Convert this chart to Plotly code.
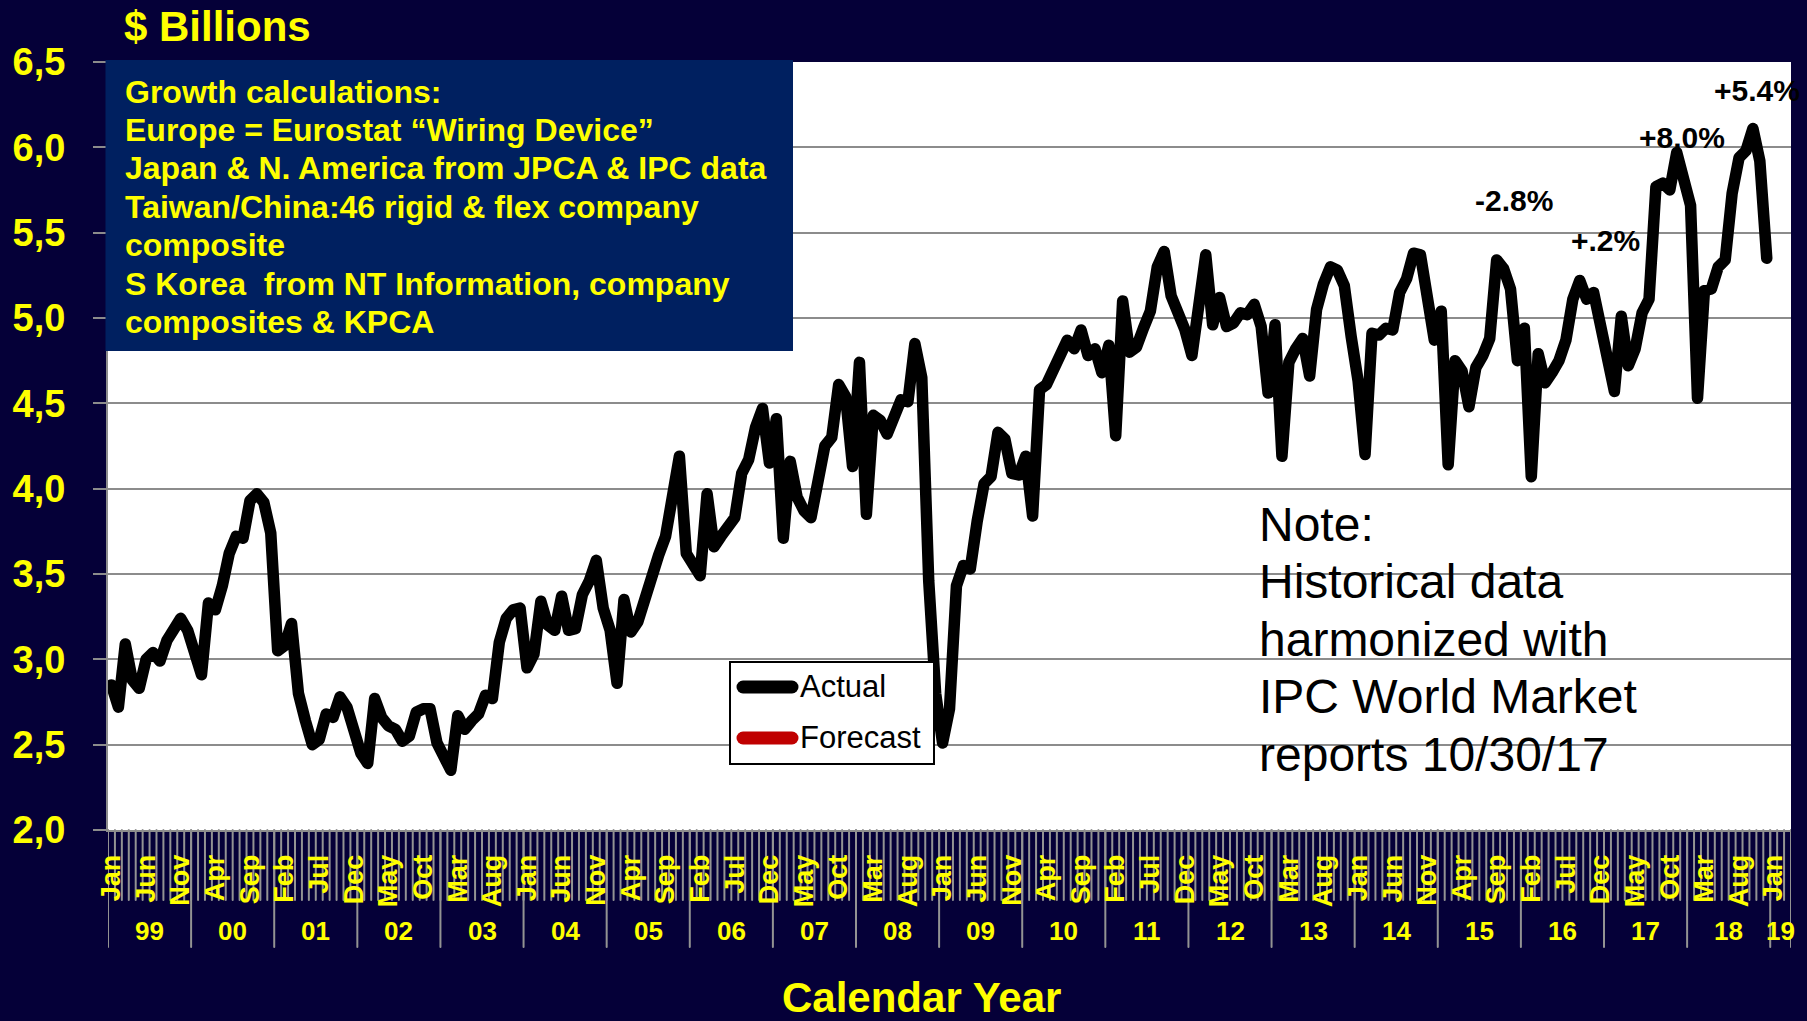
import plotly.graph_objects as go

# ---- data -------------------------------------------------------------
month_names = ["Jan", "Feb", "Mar", "Apr", "May", "Jun",
               "Jul", "Aug", "Sep", "Oct", "Nov", "Dec"]
year_labels = ["99", "00", "01", "02", "03", "04", "05", "06", "07", "08",
               "09", "10", "11", "12", "13", "14", "15", "16", "17", "18", "19"]
axis_months = 243          # Jan 1999 .. Mar 2019 on the category axis
label_every = 5            # a month name every fifth month

# monthly shipments, $ billions, Jan 1999 .. Dec 2018
actual = [
    2.85, 2.72, 3.09, 2.88, 2.83, 3.00, 3.04, 2.99, 3.11, 3.19, 3.24, 3.17,  # 1999
    3.06, 2.91, 3.33, 3.29, 3.43, 3.62, 3.72, 3.71, 3.93, 3.97, 3.92, 3.74,  # 2000
    3.05, 3.08, 3.21, 2.80, 2.64, 2.50, 2.53, 2.68, 2.66, 2.78, 2.72, 2.55,  # 2001
    2.45, 2.39, 2.77, 2.66, 2.61, 2.59, 2.52, 2.55, 2.69, 2.71, 2.71, 2.51,  # 2002
    2.43, 2.35, 2.67, 2.59, 2.64, 2.68, 2.79, 2.77, 3.10, 3.24, 3.29, 3.30,  # 2003
    2.95, 3.03, 3.34, 3.20, 3.17, 3.37, 3.17, 3.18, 3.38, 3.46, 3.58, 3.30,  # 2004
    3.17, 2.86, 3.35, 3.16, 3.22, 3.37, 3.50, 3.61, 3.72, 3.97, 4.19, 3.62,  # 2005
    3.54, 3.49, 3.97, 3.66, 3.72, 3.78, 3.83, 4.09, 4.17, 4.36, 4.47, 4.15,  # 2006
    4.41, 3.71, 4.16, 3.95, 3.87, 3.83, 4.09, 4.25, 4.30, 4.61, 4.54, 4.13,  # 2007
    4.74, 3.85, 4.43, 4.40, 4.32, 4.44, 4.52, 4.51, 4.85, 4.65, 3.46, 2.80,  # 2008
    2.51, 2.71, 3.43, 3.55, 3.53, 3.81, 4.03, 4.07, 4.33, 4.29, 4.09, 4.08,  # 2009
    4.19, 3.84, 4.58, 4.61, 4.69, 4.77, 4.87, 4.82, 4.93, 4.78, 4.82, 4.68,  # 2010
    4.84, 4.31, 5.10, 4.80, 4.83, 4.94, 5.04, 5.30, 5.39, 5.13, 5.03, 4.93,  # 2011
    4.78, 5.09, 5.37, 4.96, 5.12, 4.95, 4.97, 5.03, 5.02, 5.08, 4.95, 4.56,  # 2012
    4.96, 4.19, 4.74, 4.82, 4.88, 4.66, 5.05, 5.20, 5.30, 5.28, 5.19, 4.89,  # 2013
    4.63, 4.20, 4.91, 4.90, 4.94, 4.93, 5.15, 5.23, 5.38, 5.37, 5.12, 4.87,  # 2014
    5.04, 4.14, 4.75, 4.69, 4.48, 4.71, 4.78, 4.88, 5.34, 5.29, 5.17, 4.75,  # 2015
    4.94, 4.07, 4.79, 4.62, 4.68, 4.75, 4.87, 5.11, 5.22, 5.11, 5.15, 4.95,  # 2016
    4.75, 4.57, 5.01, 4.72, 4.82, 5.03, 5.11, 5.77, 5.79, 5.75, 5.97, 5.82,  # 2017
    5.66, 4.53, 5.16, 5.17, 5.30, 5.34, 5.73, 5.94, 5.98, 6.11, 5.92, 5.35,  # 2018
]

growth_labels = ["-2.8%", "+.2%", "+8.0%", "+5.4%"]

info_lines = [
    "Growth calculations:",
    "Europe = Eurostat \u201cWiring Device\u201d",
    "Japan & N. America from JPCA & IPC data",
    "Taiwan/China:46 rigid & flex company",
    "composite",
    "S Korea  from NT Information, company",
    "composites & KPCA",
]
note_lines = ["Note:", "Historical data", "harmonized with",
              "IPC World Market", "reports 10/30/17"]

# ---- styling ----------------------------------------------------------
FONT = "Liberation Sans, Arial, sans-serif"
NAVY = "#050038"
BOX = "#002060"
YELLOW = "#FFFF00"
GRID = "#8c8c8c"
TICK = "#939393"

W_PX, H_PX = 1807, 1021
L, T, R, B = 108, 62, 16, 191
PW, PH = W_PX - L - R, H_PX - T - B


def px(x):
    return (x - L) / PW


def py(y):
    return (T + PH - y) / PH


months_idx = list(range(len(actual)))

fig = go.Figure()
fig.add_trace(go.Scatter(
    x=months_idx, y=actual, mode="lines", name="Actual",
    line=dict(color="black", width=11.5), showlegend=False,
    hoverinfo="skip",
))

tick_vals = list(range(0, axis_months, label_every))
tick_text = [month_names[i % 12] for i in tick_vals]

shapes = []
# information panel
shapes.append(dict(type="rect", xref="paper", yref="paper",
                   x0=px(105.5), x1=px(793), y0=py(351), y1=py(60),
                   fillcolor=BOX, line=dict(width=0), layer="above"))
# month boundaries below the axis (kept under the month names)
for i in range(axis_months + 1):
    shapes.append(dict(type="line", xref="x", yref="paper",
                       x0=i - 0.5, x1=i - 0.5, y0=0, y1=py(900),
                       line=dict(color=TICK, width=2), layer="below"))
# year separators
for k in range(0, axis_months + 12, 12):
    xk = min(k, axis_months) - 0.5
    shapes.append(dict(type="line", xref="x", yref="paper",
                       x0=xk, x1=xk, y0=0, y1=py(947),
                       line=dict(color=TICK, width=2), layer="below"))
# legend frame and samples
shapes.append(dict(type="rect", xref="paper", yref="paper",
                   x0=px(730), x1=px(934), y0=py(764), y1=py(662),
                   fillcolor="white", line=dict(color="black", width=2),
                   layer="above"))
shapes.append(dict(type="line", xref="paper", yref="paper",
                   x0=px(743), x1=px(792), y0=py(687), y1=py(687),
                   line=dict(color="black", width=13), layer="above"))
shapes.append(dict(type="line", xref="paper", yref="paper",
                   x0=px(743), x1=px(792), y0=py(738), y1=py(738),
                   line=dict(color="#C00000", width=13), layer="above"))

ann = []
ann.append(dict(text="$ Billions", xref="paper", yref="paper",
                x=px(122), y=py(26), xanchor="left", yanchor="middle",
                showarrow=False, font=dict(family=FONT, size=42, color=YELLOW,
                                           weight="bold")))
ann.append(dict(text="Calendar Year", xref="paper", yref="paper",
                x=px(921), y=py(997), xanchor="center", yanchor="middle",
                showarrow=False, font=dict(family=FONT, size=42, color=YELLOW,
                                           weight="bold")))
for j, line in enumerate(info_lines):
    ann.append(dict(text=line, xref="paper", yref="paper",
                    x=px(123), y=py(91.5 + 38.4 * j),
                    xanchor="left", yanchor="middle", showarrow=False,
                    font=dict(family=FONT, size=32, color=YELLOW, weight="bold")))
for j, line in enumerate(note_lines):
    ann.append(dict(text=line, xref="paper", yref="paper",
                    x=px(1257), y=py(524 + 57.6 * j),
                    xanchor="left", yanchor="middle", showarrow=False,
                    font=dict(family=FONT, size=48, color="black")))
for text, cx, cy in zip(growth_labels, (1514, 1605, 1682, 1757), (200, 240, 137, 90)):
    ann.append(dict(text=text, xref="paper", yref="paper",
                    x=px(cx), y=py(cy), xanchor="center", yanchor="middle",
                    showarrow=False,
                    font=dict(family=FONT, size=30, color="black", weight="bold")))
for name, cy in (("Actual", 686), ("Forecast", 737)):
    ann.append(dict(text=name, xref="paper", yref="paper",
                    x=px(798), y=py(cy), xanchor="left", yanchor="middle",
                    showarrow=False, font=dict(family=FONT, size=31, color="black")))
for k, lab in enumerate(year_labels):
    start = 12 * k
    end = min(12 * (k + 1), axis_months)
    ann.append(dict(text=lab, xref="x", yref="paper",
                    x=(start + end - 1) / 2, y=py(931),
                    xanchor="center", yanchor="middle", showarrow=False,
                    font=dict(family=FONT, size=26, color=YELLOW, weight="bold")))

fig.update_layout(
    width=W_PX, height=H_PX,
    margin=dict(l=L, r=R, t=T, b=B, pad=0),
    paper_bgcolor=NAVY, plot_bgcolor="white",
    separators=", ",
    showlegend=False,
    shapes=shapes, annotations=ann,
    xaxis=dict(
        range=[-0.5, axis_months - 0.5], tickmode="array",
        tickvals=tick_vals, ticktext=tick_text, tickangle=-90,
        ticks="", showgrid=False, zeroline=False,
        showline=True, linecolor=GRID, linewidth=2,
        tickfont=dict(family=FONT, size=27, color=YELLOW, weight="bold"),
        ticklabelstandoff=12,
    ),
    yaxis=dict(
        range=[2.0, 6.5], dtick=0.5, tick0=2.0, tickformat=".1f",
        showgrid=True, gridcolor=GRID, gridwidth=2, zeroline=False,
        showline=True, linecolor=GRID, linewidth=2,
        ticks="outside", ticklen=13, tickwidth=2, tickcolor=GRID,
        tickfont=dict(family=FONT, size=38, color=YELLOW, weight="bold"),
        ticklabelstandoff=20,
    ),
)

round_joins = (
    "var s=document.createElement('style');"
    "s.textContent='.scatterlayer .js-line{stroke-linejoin:round;stroke-linecap:round}"
    ".shapelayer path{stroke-linecap:round}';"
    "document.head.appendChild(s);"
)
fig.write_html("out.html", post_script=round_joins)
